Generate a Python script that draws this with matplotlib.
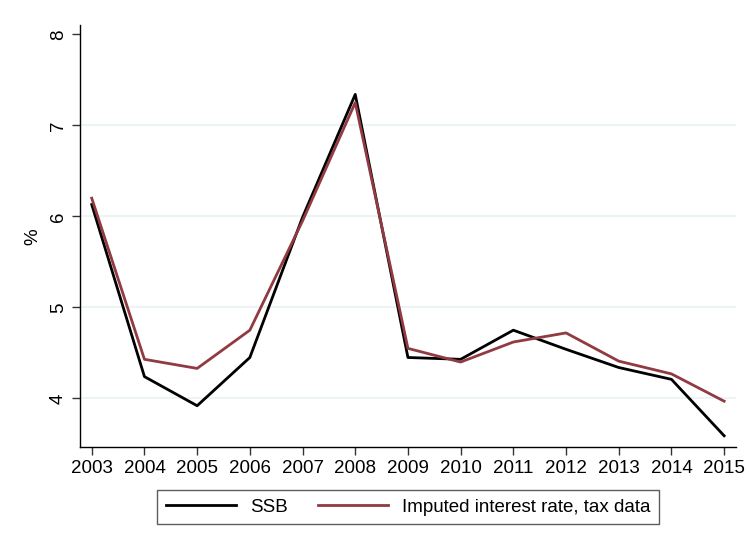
import numpy as np
import matplotlib.pyplot as plt

years = list(range(2003, 2016))
ssb = [6.13, 4.24, 3.92, 4.45, 5.99, 7.34, 4.45, 4.43, 4.75, 4.54, 4.34, 4.21, 3.59]
imputed = [6.20, 4.43, 4.33, 4.75, 5.95, 7.25, 4.55, 4.40, 4.62, 4.72, 4.41, 4.27, 3.97]
yticks = [4, 5, 6, 7, 8]

plt.rcParams['font.family'] = ['Liberation Sans', 'DejaVu Sans']
fs = 13.5

fig = plt.figure(figsize=(7.49, 5.48), dpi=100)
ax = fig.add_axes([0.107, 0.184, 0.876, 0.770])

for y in yticks[:-1]:
    ax.axhline(y, color='#eaf2f3', lw=1.2, zorder=0)

l1, = ax.plot(years, ssb, color='black', lw=2, label='SSB')
l2, = ax.plot(years, imputed, color='#913a41', lw=2, label='Imputed interest rate, tax data')

ax.set_xlim(2002.78, 2015.23)
ax.set_ylim(3.465, 8.10)
ax.set_xticks(years)
ax.set_yticks(yticks)
ax.set_yticklabels([str(v) for v in yticks], rotation=90, va='center')
ax.tick_params(labelsize=fs, length=6, width=1, color='#333333')
ax.set_ylabel('%', fontsize=fs, labelpad=6)

for s in ['top', 'right']:
    ax.spines[s].set_visible(False)
for s in ['left', 'bottom']:
    ax.spines[s].set_linewidth(1)

leg = fig.legend(handles=[l1, l2], loc='center', bbox_to_anchor=(0.545, 0.074),
                 ncol=2, fontsize=fs, frameon=True, fancybox=False,
                 handlelength=3.75, handletextpad=0.75, columnspacing=1.6,
                 borderpad=0.45)
leg.get_frame().set_edgecolor('#333333')
leg.get_frame().set_linewidth(1)

fig.savefig('out.png', dpi=100)
